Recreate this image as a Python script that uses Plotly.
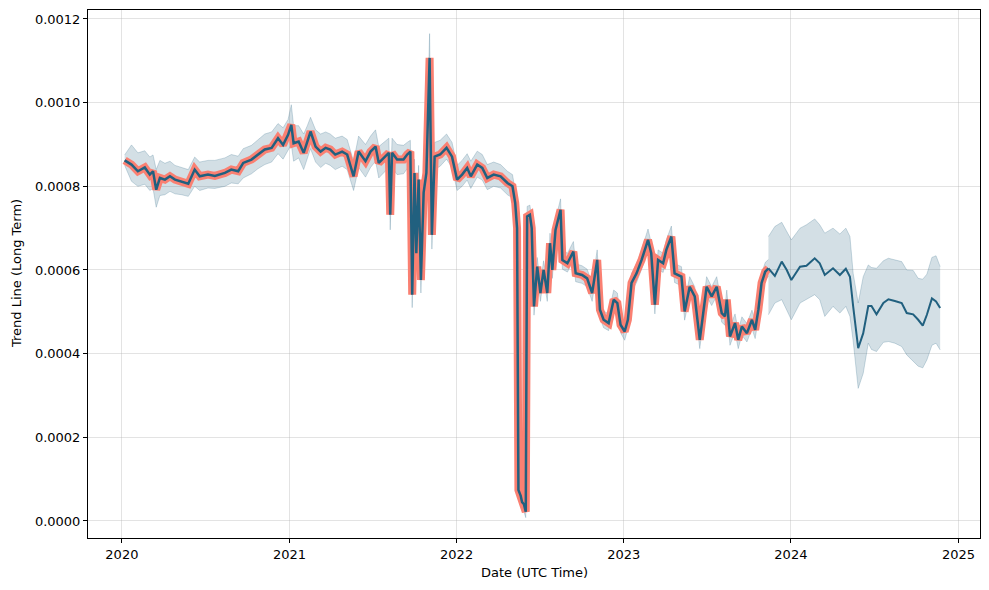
import plotly.graph_objects as go

# historical trend (daily series thinned by hand from the chart)
hist_dates = [
    "2020-01-07", "2020-01-22", "2020-02-05", "2020-02-20", "2020-03-02", "2020-03-09", "2020-03-16", "2020-03-24",
    "2020-04-04", "2020-04-15", "2020-04-26", "2020-05-10", "2020-05-25", "2020-06-08", "2020-06-19", "2020-07-07",
    "2020-07-22", "2020-08-13", "2020-08-27", "2020-09-11", "2020-09-22", "2020-10-10", "2020-10-24", "2020-11-08",
    "2020-11-23", "2020-12-07", "2020-12-18", "2020-12-29",
    "2021-01-05", "2021-01-10", "2021-01-21", "2021-02-01", "2021-02-09", "2021-02-16", "2021-02-27", "2021-03-10",
    "2021-03-21", "2021-03-31", "2021-04-11", "2021-04-26", "2021-05-07", "2021-05-21", "2021-06-01", "2021-06-16",
    "2021-06-27", "2021-07-08", "2021-07-15", "2021-07-26", "2021-08-06", "2021-08-09", "2021-08-13", "2021-08-24",
    "2021-09-07", "2021-09-15", "2021-09-22", "2021-09-26", "2021-10-01", "2021-10-05", "2021-10-10", "2021-10-15",
    "2021-10-21", "2021-10-27", "2021-11-03", "2021-11-08", "2021-11-14", "2021-11-26", "2021-12-10", "2021-12-22",
    "2022-01-02", "2022-01-13", "2022-01-24", "2022-02-01", "2022-02-15", "2022-02-26", "2022-03-09", "2022-03-23",
    "2022-04-07", "2022-04-22", "2022-05-03", "2022-05-09", "2022-05-13", "2022-05-16", "2022-05-21", "2022-05-24",
    "2022-05-28", "2022-06-01", "2022-06-04", "2022-06-10", "2022-06-14", "2022-06-19", "2022-06-26", "2022-07-03",
    "2022-07-10", "2022-07-18", "2022-07-24", "2022-07-29", "2022-08-05", "2022-08-16", "2022-08-20", "2022-08-31",
    "2022-09-13", "2022-09-18", "2022-10-02", "2022-10-13", "2022-10-24", "2022-11-04", "2022-11-10", "2022-11-18",
    "2022-11-29", "2022-12-10", "2022-12-18", "2022-12-25",
    "2023-01-03", "2023-01-10", "2023-01-18", "2023-01-29", "2023-02-09", "2023-02-23", "2023-03-02", "2023-03-10",
    "2023-03-17", "2023-03-28", "2023-04-04", "2023-04-15", "2023-04-22", "2023-05-07", "2023-05-14", "2023-05-25",
    "2023-06-05", "2023-06-16", "2023-06-23", "2023-07-01", "2023-07-12", "2023-07-23", "2023-08-03", "2023-08-10",
    "2023-08-14", "2023-08-21", "2023-09-01", "2023-09-08", "2023-09-16", "2023-09-27", "2023-10-08", "2023-10-15",
    "2023-10-22", "2023-10-29", "2023-11-06", "2023-11-13",
]
hist_trend = [
    0.000862, 0.000852, 0.000836, 0.000845, 0.000828, 0.000836, 0.000792, 0.000820,
    0.000816, 0.000824, 0.000816, 0.000812, 0.000806, 0.000840, 0.000824, 0.000828,
    0.000825, 0.000832, 0.000840, 0.000836, 0.000856, 0.000864, 0.000876, 0.000888,
    0.000892, 0.000915, 0.000899, 0.000923,
    0.000947, 0.000903, 0.000907, 0.000880, 0.000907, 0.000931, 0.000895, 0.000883,
    0.000892, 0.000888, 0.000876, 0.000883, 0.000876, 0.000824, 0.000883, 0.000860,
    0.000883, 0.000895, 0.000856, 0.000868, 0.000880, 0.000732, 0.000880, 0.000864,
    0.000864, 0.000876, 0.000883, 0.000541, 0.000832, 0.000640, 0.000816, 0.000576,
    0.000785, 0.000832, 0.001107, 0.000684, 0.000871, 0.000876, 0.000892, 0.000871,
    0.000816, 0.000828, 0.000844, 0.000824, 0.000852, 0.000844, 0.000820, 0.000828,
    0.000824, 0.000808, 0.000800, 0.000760, 0.000700, 0.000074, 0.000060, 0.000045,
    0.000040, 0.000022, 0.000728, 0.000732, 0.000700, 0.000513, 0.000608, 0.000545,
    0.000600, 0.000545, 0.000664, 0.000600, 0.000696, 0.000744, 0.000624, 0.000616,
    0.000644, 0.000592, 0.000588, 0.000580, 0.000545, 0.000624, 0.000505, 0.000481,
    0.000473, 0.000529, 0.000521, 0.000469,
    0.000453, 0.000481, 0.000569, 0.000592, 0.000624, 0.000672, 0.000640, 0.000517,
    0.000624, 0.000616, 0.000648, 0.000680, 0.000592, 0.000584, 0.000501, 0.000560,
    0.000537, 0.000433, 0.000497, 0.000560, 0.000537, 0.000560, 0.000497, 0.000489,
    0.000529, 0.000441, 0.000473, 0.000433, 0.000465, 0.000449, 0.000481, 0.000457,
    0.000505, 0.000569, 0.000596, 0.000604,
]
hist_upper = [
    0.000875, 0.000899, 0.000880, 0.000885, 0.000870, 0.000875, 0.000840, 0.000862,
    0.000855, 0.000860, 0.000850, 0.000845, 0.000840, 0.000870, 0.000858, 0.000862,
    0.000862, 0.000868, 0.000876, 0.000872, 0.000890, 0.000898, 0.000910, 0.000925,
    0.000930, 0.000950, 0.000940, 0.000960,
    0.000995, 0.000945, 0.000945, 0.000925, 0.000945, 0.000965, 0.000935, 0.000925,
    0.000930, 0.000925, 0.000915, 0.000920, 0.000912, 0.000860, 0.000920, 0.000900,
    0.000920, 0.000935, 0.000895, 0.000905, 0.000915, 0.000770, 0.000915, 0.000900,
    0.000898, 0.000905, 0.000910, 0.000580, 0.000865, 0.000680, 0.000850, 0.000610,
    0.000820, 0.000865, 0.001165, 0.000720, 0.000905, 0.000910, 0.000925, 0.000905,
    0.000850, 0.000862, 0.000878, 0.000860, 0.000884, 0.000876, 0.000852, 0.000858,
    0.000852, 0.000836, 0.000828, 0.000790, 0.000730, 0.000095, 0.000080, 0.000065,
    0.000060, 0.000040, 0.000752, 0.000755, 0.000725, 0.000535, 0.000630, 0.000568,
    0.000622, 0.000568, 0.000688, 0.000622, 0.000720, 0.000770, 0.000648, 0.000640,
    0.000668, 0.000615, 0.000610, 0.000602, 0.000568, 0.000648, 0.000528, 0.000502,
    0.000495, 0.000552, 0.000545, 0.000490,
    0.000475, 0.000502, 0.000592, 0.000615, 0.000648, 0.000698, 0.000665, 0.000540,
    0.000648, 0.000640, 0.000672, 0.000705, 0.000615, 0.000608, 0.000525, 0.000584,
    0.000560, 0.000455, 0.000520, 0.000584, 0.000560, 0.000584, 0.000520, 0.000512,
    0.000552, 0.000464, 0.000495, 0.000455, 0.000488, 0.000472, 0.000504, 0.000480,
    0.000528, 0.000592, 0.000618, 0.000625,
]
hist_lower = [
    0.000850, 0.000812, 0.000800, 0.000805, 0.000790, 0.000795, 0.000750, 0.000778,
    0.000780, 0.000788, 0.000782, 0.000780, 0.000776, 0.000800, 0.000790, 0.000796,
    0.000795, 0.000800, 0.000808, 0.000806, 0.000820, 0.000830, 0.000842, 0.000852,
    0.000858, 0.000878, 0.000865, 0.000885,
    0.000900, 0.000860, 0.000868, 0.000840, 0.000868, 0.000890, 0.000858, 0.000845,
    0.000855, 0.000850, 0.000840, 0.000848, 0.000840, 0.000790, 0.000845, 0.000822,
    0.000845, 0.000860, 0.000820, 0.000832, 0.000845, 0.000696, 0.000845, 0.000828,
    0.000830, 0.000842, 0.000850, 0.000510, 0.000800, 0.000600, 0.000780, 0.000545,
    0.000750, 0.000800, 0.001060, 0.000650, 0.000840, 0.000848, 0.000865, 0.000845,
    0.000790, 0.000800, 0.000815, 0.000795, 0.000822, 0.000815, 0.000792, 0.000800,
    0.000796, 0.000780, 0.000772, 0.000735, 0.000675, 0.000055, 0.000042, 0.000028,
    0.000022, 0.000008, 0.000705, 0.000710, 0.000678, 0.000492, 0.000588, 0.000525,
    0.000580, 0.000525, 0.000642, 0.000580, 0.000675, 0.000722, 0.000602, 0.000595,
    0.000622, 0.000572, 0.000568, 0.000560, 0.000525, 0.000602, 0.000485, 0.000462,
    0.000455, 0.000508, 0.000500, 0.000450,
    0.000432, 0.000460, 0.000548, 0.000570, 0.000602, 0.000650, 0.000618, 0.000495,
    0.000602, 0.000594, 0.000625, 0.000658, 0.000570, 0.000562, 0.000480, 0.000538,
    0.000515, 0.000412, 0.000475, 0.000538, 0.000515, 0.000538, 0.000475, 0.000468,
    0.000508, 0.000420, 0.000452, 0.000412, 0.000444, 0.000428, 0.000460, 0.000436,
    0.000484, 0.000548, 0.000575, 0.000585,
]

# forecast
fc_dates = [
    "2023-11-13", "2023-11-27", "2023-12-12", "2023-12-23", "2024-01-02", "2024-01-21", "2024-02-04", "2024-02-22",
    "2024-03-04", "2024-03-15", "2024-04-02", "2024-04-17", "2024-04-30", "2024-05-09", "2024-05-16", "2024-05-27",
    "2024-06-07", "2024-06-18", "2024-06-25", "2024-07-06", "2024-07-21", "2024-08-01", "2024-08-15", "2024-08-30",
    "2024-09-10", "2024-09-24", "2024-10-05", "2024-10-15", "2024-10-24", "2024-11-04", "2024-11-13", "2024-11-22",
]
fc_trend = [
    0.000604, 0.000586, 0.000620, 0.000600, 0.000576, 0.000608, 0.000610, 0.000628,
    0.000616, 0.000588, 0.000604, 0.000588, 0.000603, 0.000584, 0.000513, 0.000413,
    0.000449, 0.000514, 0.000514, 0.000494, 0.000521, 0.000530, 0.000526, 0.000521,
    0.000497, 0.000494, 0.000481, 0.000467, 0.000493, 0.000532, 0.000525, 0.000509,
]
fc_upper = [
    0.000680, 0.000704, 0.000714, 0.000692, 0.000672, 0.000700, 0.000708, 0.000722,
    0.000708, 0.000688, 0.000700, 0.000686, 0.000700, 0.000680, 0.000592, 0.000521,
    0.000584, 0.000612, 0.000606, 0.000604, 0.000622, 0.000628, 0.000624, 0.000620,
    0.000600, 0.000599, 0.000580, 0.000578, 0.000590, 0.000630, 0.000634, 0.000608,
]
fc_lower = [
    0.000493, 0.000521, 0.000529, 0.000505, 0.000481, 0.000521, 0.000529, 0.000541,
    0.000529, 0.000489, 0.000513, 0.000497, 0.000513, 0.000489, 0.000430, 0.000317,
    0.000353, 0.000425, 0.000410, 0.000405, 0.000427, 0.000429, 0.000425, 0.000417,
    0.000397, 0.000383, 0.000370, 0.000366, 0.000385, 0.000420, 0.000425, 0.000409,
]

for name, arr in [("hist_trend", hist_trend), ("hist_upper", hist_upper), ("hist_lower", hist_lower)]:
    if len(arr) != len(hist_dates):
        raise ValueError(f"{name}: {len(arr)} vs {len(hist_dates)}")
for name, arr in [("fc_trend", fc_trend), ("fc_upper", fc_upper), ("fc_lower", fc_lower)]:
    if len(arr) != len(fc_dates):
        raise ValueError(f"{name}: {len(arr)} vs {len(fc_dates)}")

BLUE = "#21607f"
SALMON = "#fa8072"
BAND_FILL = "rgba(33, 96, 127, 0.2)"
BAND_EDGE = "rgba(33, 96, 127, 0.22)"
FONT = "DejaVu Sans"

fig = go.Figure()


def add_band(dates, upper, lower):
    fig.add_trace(go.Scatter(x=dates, y=upper, mode="lines",
                             line=dict(color=BAND_EDGE, width=1),
                             hoverinfo="skip", showlegend=False))
    fig.add_trace(go.Scatter(x=dates, y=lower, mode="lines",
                             line=dict(color=BAND_EDGE, width=1),
                             fill="tonexty", fillcolor=BAND_FILL,
                             hoverinfo="skip", showlegend=False))


add_band(hist_dates, hist_upper, hist_lower)
add_band(fc_dates, fc_upper, fc_lower)

fig.add_trace(go.Scatter(x=hist_dates, y=hist_trend, mode="lines",
                         line=dict(color=SALMON, width=8), showlegend=False))
fig.add_trace(go.Scatter(x=hist_dates, y=hist_trend, mode="lines",
                         line=dict(color=BLUE, width=2.5), showlegend=False))
fig.add_trace(go.Scatter(x=fc_dates, y=fc_trend, mode="lines",
                         line=dict(color=BLUE, width=2), showlegend=False))

axis_style = dict(
    showline=True, linecolor="black", linewidth=1, mirror=True,
    ticks="outside", ticklen=4, tickcolor="black",
    showgrid=True, gridcolor="rgba(176, 176, 176, 0.35)", gridwidth=1,
    zeroline=False, tickfont=dict(size=13, color="black"), automargin=False,
)

fig.update_xaxes(axis_style, type="date", range=["2019-10-19", "2025-02-17"],
                 dtick="M12", tickformat="%Y", tick0="2020-01-01")
fig.update_yaxes(axis_style, range=[-0.0000407, 0.0012215], dtick=0.0002, tickformat=".4f")

# axis titles placed like the matplotlib original
fig.add_annotation(text="Date (UTC Time)", xref="paper", yref="paper", x=0.5, y=0,
                   yshift=-34, yanchor="middle", showarrow=False, font=dict(size=13, color="black"))
fig.add_annotation(text="Trend Line (Long Term)", xref="paper", yref="paper", x=0, y=0.5,
                   xshift=-72, xanchor="center", textangle=-90, showarrow=False,
                   font=dict(size=13, color="black"))

# the page body adds an 8px margin, so the figure is trimmed to keep the frame in place
fig.update_layout(
    width=981, height=582,
    margin=dict(l=80, r=9, t=2, b=52),
    plot_bgcolor="white", paper_bgcolor="white",
    font=dict(family=FONT, color="black"),
)

fig.write_html("out.html")
